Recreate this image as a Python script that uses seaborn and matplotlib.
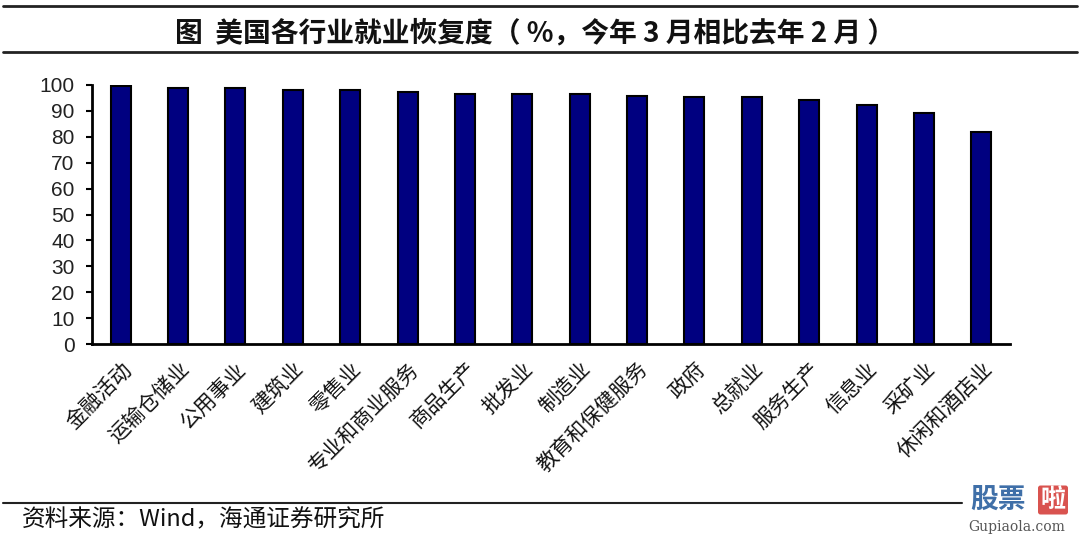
import matplotlib
matplotlib.use("Agg")
import matplotlib.pyplot as plt
from matplotlib.lines import Line2D
import seaborn as sns
import pandas as pd

categories = ["金融活动", "运输仓储业", "公用事业", "建筑业", "零售业", "专业和商业服务",
              "商品生产", "批发业", "制造业", "教育和保健服务", "政府", "总就业",
              "服务生产", "信息业", "采矿业", "休闲和酒店业"]
values = [99.7, 98.9, 98.9, 98.1, 98.1, 97.3, 96.6, 96.6, 96.6, 95.9, 95.3, 95.3,
          94.4, 92.3, 89.2, 81.8]
yticks = list(range(0, 101, 10))
title = "图  美国各行业就业恢复度（ %，今年 3 月相比去年 2 月 ）"
source = "资料来源：Wind，海通证券研究所"

sns.set_style("white")
plt.rcParams['font.family'] = ['Noto Sans CJK SC', 'DejaVu Sans']

df = pd.DataFrame({"行业": categories, "恢复度": values})

fig = plt.figure(figsize=(10.8, 5.41), dpi=100)
ax = fig.add_axes([92/1080, 1-344/541, (1010-92)/1080, (344-85)/541])

sns.barplot(data=df, x="行业", y="恢复度", ax=ax, color="#000080", width=0.35,
            edgecolor="black", linewidth=1.5, saturation=1)

ax.set_xlim(-0.5, len(categories) - 0.5)
ax.set_ylim(0, 100)
ax.set_yticks(yticks)
ax.set_yticklabels([str(t) for t in yticks], fontfamily='Liberation Sans', fontsize=15)
ax.set_xlabel("")
ax.set_ylabel("")
for s in ["top", "right"]:
    ax.spines[s].set_visible(False)
for s in ["left", "bottom"]:
    ax.spines[s].set_visible(True)
    ax.spines[s].set_color("black")
    ax.spines[s].set_linewidth(2)
ax.tick_params(axis='y', which='major', direction='out', length=4.5, width=1.5,
               color='black', left=True, pad=8, labelcolor='#222222')
ax.tick_params(axis='x', length=0, pad=10)
ax.set_xticks(range(len(categories)))
ax.set_xticklabels(categories, rotation=45, ha='right', rotation_mode='anchor',
                   fontsize=15, color='#111111')

# Header lines and title
fig.add_artist(Line2D([3/1080, 1077/1080], [1-5.5/541, 1-5.5/541],
                      transform=fig.transFigure, color='#222222', lw=2))
fig.add_artist(Line2D([3/1080, 1077/1080], [1-52/541, 1-52/541],
                      transform=fig.transFigure, color='#222222', lw=2))
fig.text(535/1080, 1-33/541, title, ha='center', va='center', fontsize=20,
         fontweight='bold', color='#111111')

# Footer
fig.add_artist(Line2D([3/1080, 962/1080], [1-503/541, 1-503/541],
                      transform=fig.transFigure, color='#222222', lw=1.5))
fig.text(22/1080, 1-520/541, source, ha='left', va='center', fontsize=17,
         color='#111111')

# Watermark
fig.text(998/1080, 1-500/541, "股票", ha='center', va='center', fontsize=20,
         fontweight='bold', color='#3f6fa8')
fig.text(1053/1080, 1-500/541, "啦", ha='center', va='center', fontsize=18,
         fontweight='bold', color='white',
         bbox=dict(boxstyle='round,pad=0.1', fc='#d9534f', ec='none'))
fig.text(1017/1080, 1-527/541, "Gupiaola.com", ha='center', va='center', fontsize=10,
         fontfamily='DejaVu Serif', color='#555555')

fig.savefig("out.png", dpi=100)
